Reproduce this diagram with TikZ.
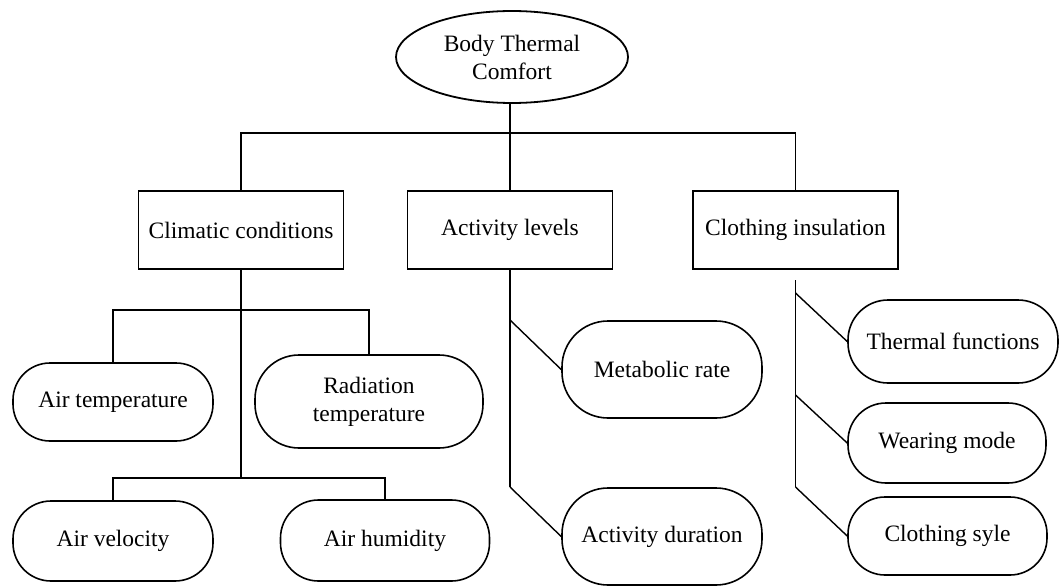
\documentclass[tikz,border=0pt]{standalone}
\usepackage{fontspec}
\setmainfont{Liberation Serif}
\usetikzlibrary{shapes.geometric}
\begin{document}
\begin{tikzpicture}[x=1pt,y=-1pt,
  lbl/.style={font=\fontsize{23.5}{28}\selectfont, align=center, inner sep=0pt},
  topnode/.style={lbl, draw, ellipse, line width=1.8pt},
  catbox/.style={lbl, draw, rectangle, line width=1.6pt, minimum width=205, minimum height=78},
  pill/.style={lbl, draw, rectangle, line width=1.6pt},
  link/.style={line width=1.8pt},
  diag/.style={line width=1.4pt}]
\useasboundingbox (0,0) rectangle (1059,588);

% root
\node[topnode, minimum width=232, minimum height=92] (top) at (512,57) {Body Thermal\\Comfort};

% categories
\node[catbox] (climatic) at (241,230) {Climatic conditions};
\node[catbox] (activity) at (510,230) {Activity levels};
\node[catbox] (clothing) at (795.5,230) {Clothing insulation};

% climatic factors
\node[pill, minimum width=200, minimum height=78, rounded corners=37] (airtemp) at (113,402) {Air temperature};
\node[pill, minimum width=228, minimum height=93, rounded corners=44] (radtemp) at (369,401.5) {Radiation\\temperature};
\node[pill, minimum width=200, minimum height=80, rounded corners=38] (airvel) at (113,541) {Air velocity};
\node[pill, minimum width=209, minimum height=81, rounded corners=38] (airhum) at (385,540.5) {Air humidity};

% activity factors
\node[pill, minimum width=200, minimum height=97, rounded corners=46] (metab) at (662,369.5) {Metabolic rate};
\node[pill, minimum width=200, minimum height=97, rounded corners=46] (actdur) at (662,536.5) {Activity duration};

% clothing factors
\node[pill, minimum width=210, minimum height=83, rounded corners=40] (thermal) at (953,341.5) {Thermal functions};
\node[pill, minimum width=198, minimum height=80, rounded corners=38] (wearing) at (947,443) {Wearing mode};
\node[pill, minimum width=199, minimum height=78, rounded corners=37] (clothsyle) at (947.5,536) {Clothing syle};

% junction points
\coordinate (bar) at (510,133);
\coordinate (cj1) at (241,310);
\coordinate (cj2) at (241,478);
\coordinate (aj1) at (510,320);
\coordinate (aj2) at (510,487);
\coordinate (kj0) at (795.5,280);
\coordinate (kj1) at (795.5,293);
\coordinate (kj2) at (795.5,395);
\coordinate (kj3) at (795.5,487);

% root to categories
\draw[link] (top.south -| activity.north) -- (activity.north);
\draw[link] (climatic.north) |- (bar) -| (clothing.north);

% climatic tree
\draw[link] (climatic.south) -- (cj2);
\draw[link] (airtemp.north) |- (cj1) -| (radtemp.north);
\draw[link] (airvel.north) |- (cj2) -| (airhum.north);

% activity tree
\draw[link] (activity.south) -- (aj2);
\draw[diag] (aj1) -- (metab.west);
\draw[diag] (aj2) -- (actdur.west);

% clothing tree
\draw[link] (kj0) -- (kj3);
\draw[diag] (kj1) -- (thermal.west);
\draw[diag] (kj2) -- (wearing.west);
\draw[diag] (kj3) -- (clothsyle.west);
\end{tikzpicture}
\end{document}
